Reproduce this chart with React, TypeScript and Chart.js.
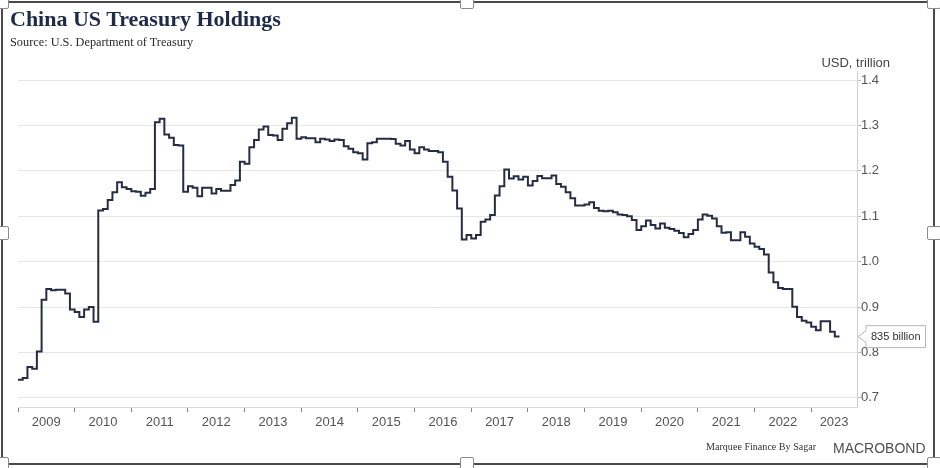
import React, { useEffect, useRef } from "react";
import { Chart, registerables } from "chart.js";

Chart.register(...registerables);

// ---- data (USD trillion, monthly, Jan 2009 – Jun 2023) ----
const yearLabels = ["2009", "2010", "2011", "2012", "2013", "2014", "2015", "2016", "2017", "2018", "2019", "2020", "2021", "2022", "2023"];

const v2009 = [0.740, 0.744, 0.768, 0.764, 0.802, 0.916, 0.940, 0.937, 0.938, 0.938, 0.930, 0.895];
const v2010 = [0.889, 0.878, 0.895, 0.900, 0.868, 1.113, 1.116, 1.136, 1.153, 1.175, 1.164, 1.160];
const v2011 = [1.155, 1.154, 1.145, 1.152, 1.160, 1.307, 1.315, 1.280, 1.273, 1.257, 1.256, 1.154];
const v2012 = [1.166, 1.163, 1.144, 1.163, 1.163, 1.150, 1.160, 1.156, 1.156, 1.169, 1.179, 1.220];
const v2013 = [1.216, 1.252, 1.268, 1.291, 1.298, 1.279, 1.278, 1.268, 1.293, 1.305, 1.317, 1.271];
const v2014 = [1.274, 1.272, 1.272, 1.263, 1.271, 1.269, 1.266, 1.269, 1.268, 1.254, 1.249, 1.241];
const v2015 = [1.239, 1.225, 1.261, 1.263, 1.271, 1.271, 1.271, 1.270, 1.260, 1.256, 1.266, 1.247];
const v2016 = [1.239, 1.252, 1.247, 1.244, 1.244, 1.241, 1.220, 1.187, 1.157, 1.117, 1.049, 1.059];
const v2017 = [1.051, 1.059, 1.088, 1.093, 1.103, 1.146, 1.166, 1.203, 1.183, 1.188, 1.181, 1.187];
const v2018 = [1.168, 1.178, 1.189, 1.184, 1.184, 1.190, 1.171, 1.165, 1.153, 1.140, 1.124, 1.124];
const v2019 = [1.126, 1.131, 1.118, 1.112, 1.111, 1.112, 1.109, 1.104, 1.103, 1.100, 1.092, 1.070];
const v2020 = [1.078, 1.091, 1.081, 1.073, 1.084, 1.075, 1.072, 1.068, 1.063, 1.054, 1.061, 1.070];
const v2021 = [1.093, 1.104, 1.101, 1.095, 1.078, 1.064, 1.065, 1.047, 1.047, 1.065, 1.055, 1.040];
const v2022 = [1.033, 1.028, 1.016, 0.976, 0.955, 0.942, 0.940, 0.940, 0.901, 0.878, 0.870, 0.866];
const v2023 = [0.857, 0.849, 0.869, 0.869, 0.846, 0.835];

const yTicks = [0.7, 0.8, 0.9, 1.0, 1.1, 1.2, 1.3, 1.4];
const lastLabel = "835 billion";

// axis ranges
const yMin = 0.68;
const yMax = 1.42;
const xMax = 177.7; // months from Jan 2009 shown on axis

const holdings = [
  ...v2009, ...v2010, ...v2011, ...v2012, ...v2013, ...v2014, ...v2015,
  ...v2016, ...v2017, ...v2018, ...v2019, ...v2020, ...v2021, ...v2022, ...v2023,
];

const SANS = '"Liberation Sans", Arial, sans-serif';
const SERIF = '"Liberation Serif", "Times New Roman", serif';

const lastValuePlugin = {
  id: "lastValueBox",
  afterDraw(chart: any) {
    const { ctx } = chart;
    const yScale = chart.scales.y;
    const y = yScale.getPixelForValue(holdings[holdings.length - 1]);
    const x0 = chart.chartArea.right + 1;
    ctx.save();
    ctx.font = `11px ${SANS}`;
    const tw = ctx.measureText(lastLabel).width;
    const h = 22;
    const arrow = 8;
    const padX = 5;
    const left = x0 + arrow;
    const right = left + tw + padX * 2;
    ctx.beginPath();
    ctx.moveTo(x0, y);
    ctx.lineTo(left, y - 6);
    ctx.lineTo(left, y - h / 2);
    ctx.lineTo(right, y - h / 2);
    ctx.lineTo(right, y + h / 2);
    ctx.lineTo(left, y + h / 2);
    ctx.lineTo(left, y + 6);
    ctx.closePath();
    ctx.fillStyle = "#ffffff";
    ctx.fill();
    ctx.strokeStyle = "#b5b5b5";
    ctx.lineWidth = 1;
    ctx.stroke();
    ctx.fillStyle = "#333333";
    ctx.textBaseline = "middle";
    ctx.textAlign = "left";
    ctx.fillText(lastLabel, left + padX, y + 0.5);
    ctx.restore();
  },
};

function ChartCanvas() {
  const ref = useRef<HTMLCanvasElement | null>(null);
  useEffect(() => {
    if (!ref.current) return;
    const points = holdings.map((v, i) => ({ x: i, y: v }));
    points.push({ x: holdings.length, y: holdings[holdings.length - 1] });
    const yearStarts = yearLabels.map((_, i) => i * 12);
    const yearMids = yearLabels.map((_, i) =>
      i === yearLabels.length - 1 ? (i * 12 + xMax) / 2 : i * 12 + 6
    );

    const chart = new Chart(ref.current, {
      type: "line",
      data: {
        datasets: [
          {
            data: points,
            xAxisID: "x",
            yAxisID: "y",
            borderColor: "#252d44",
            borderWidth: 2,
            pointRadius: 0,
            stepped: "before",
            fill: false,
          },
        ],
      },
      options: {
        animation: false,
        responsive: false,
        maintainAspectRatio: false,
        events: [],
        layout: { padding: { left: 18, right: 0, top: 71, bottom: 36 } },
        plugins: {
          legend: { display: false },
          tooltip: { enabled: false },
          title: { display: false },
        },
        scales: {
          x: {
            type: "linear",
            position: "bottom",
            min: 0,
            max: xMax,
            afterBuildTicks: (s: any) => {
              s.ticks = yearStarts.map((v) => ({ value: v }));
            },
            ticks: { display: false },
            grid: {
              display: true,
              drawOnChartArea: false,
              drawTicks: true,
              tickLength: 5,
              tickColor: "#8a8a8a",
            },
            border: { display: true, color: "#dadada", width: 1 },
            afterFit: (s: any) => {
              s.height = 5;
            },
          },
          x2: {
            type: "linear",
            position: "bottom",
            min: 0,
            max: xMax,
            afterBuildTicks: (s: any) => {
              s.ticks = yearMids.map((v) => ({ value: v }));
            },
            ticks: {
              display: true,
              autoSkip: false,
              maxRotation: 0,
              padding: 3,
              color: "#555555",
              font: { family: SANS, size: 13 },
              callback: (_v: any, i: number) => yearLabels[i],
            },
            grid: { display: false, drawTicks: false },
            border: { display: false },
            afterFit: (s: any) => {
              s.height = 20;
            },
          },
          y: {
            type: "linear",
            position: "right",
            min: yMin,
            max: yMax,
            afterBuildTicks: (s: any) => {
              s.ticks = yTicks.map((v) => ({ value: v }));
            },
            ticks: {
              padding: 0,
              color: "#555555",
              font: { family: SANS, size: 13 },
              callback: (v: any) => Number(v).toFixed(1),
            },
            grid: {
              color: "#e6e6e6",
              drawTicks: true,
              tickLength: 4,
              tickColor: "#bdbdbd",
            },
            border: { display: true, color: "#cfcfcf" },
            afterFit: (s: any) => {
              s.width = 83;
            },
          },
        },
      } as any,
      plugins: [lastValuePlugin],
    });
    return () => chart.destroy();
  }, []);
  return (
    <canvas
      ref={ref}
      width={940}
      height={468}
      style={{ position: "absolute", left: 0, top: 0, width: 940, height: 468 }}
    />
  );
}

const handleCenters: [number, number][] = [
  [2, 2], [467, 2], [934, 2],
  [2, 233], [934, 233],
  [2, 464], [467, 464], [934, 464],
];

export default function App() {
  return (
    <div
      style={{
        position: "absolute",
        left: 0,
        top: 0,
        width: 940,
        height: 468,
        background: "#ffffff",
        overflow: "hidden",
      }}
    >
      <ChartCanvas />
      <div
        style={{
          position: "absolute",
          left: 10,
          top: 8,
          fontFamily: SERIF,
          fontWeight: 700,
          fontSize: 22,
          lineHeight: "22px",
          color: "#1d2a4a",
          whiteSpace: "nowrap",
        }}
      >
        China US Treasury Holdings
      </div>
      <div
        style={{
          position: "absolute",
          left: 10,
          top: 36,
          fontFamily: SERIF,
          fontSize: 12.3,
          lineHeight: "12.3px",
          color: "#2a2a2a",
          whiteSpace: "nowrap",
        }}
      >
        Source: U.S. Department of Treasury
      </div>
      <div
        style={{
          position: "absolute",
          right: 50,
          top: 55.5,
          fontFamily: SANS,
          fontSize: 13,
          lineHeight: "13px",
          color: "#444444",
          whiteSpace: "nowrap",
        }}
      >
        USD, trillion
      </div>
      <div
        style={{
          position: "absolute",
          left: 706,
          top: 442,
          fontFamily: SERIF,
          fontSize: 10.1,
          lineHeight: "10px",
          color: "#333333",
          whiteSpace: "nowrap",
        }}
      >
        Marquee Finance By Sagar
      </div>
      <div
        style={{
          position: "absolute",
          left: 833,
          top: 441,
          fontFamily: SANS,
          fontSize: 14,
          lineHeight: "14px",
          color: "#505050",
          whiteSpace: "nowrap",
        }}
      >
        MACROBOND
      </div>
      <div
        style={{
          position: "absolute",
          left: 1,
          top: 1,
          width: 934,
          height: 464,
          boxSizing: "border-box",
          border: "2px solid #4a4a4a",
          pointerEvents: "none",
        }}
      />
      {handleCenters.map(([cx, cy], i) => (
        <div
          key={i}
          style={{
            position: "absolute",
            left: cx - 7,
            top: cy - 7,
            width: 14,
            height: 14,
            boxSizing: "border-box",
            background: "#ffffff",
            border: "1px solid #8a8a8a",
            borderRadius: 2,
          }}
        />
      ))}
    </div>
  );
}
